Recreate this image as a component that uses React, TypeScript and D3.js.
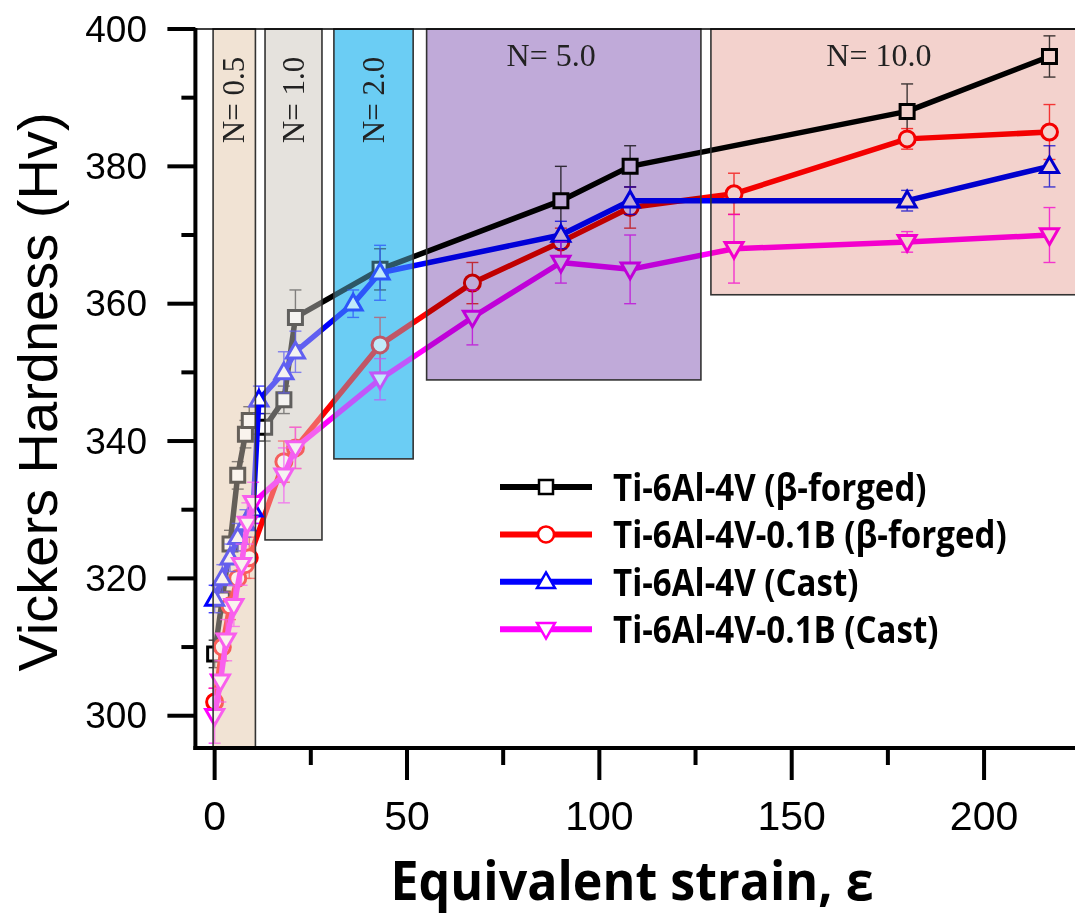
import React from 'react';
import * as d3 from 'd3';

// ---------- data ----------
const seriesNames = [
  'Ti-6Al-4V (β-forged)',
  'Ti-6Al-4V-0.1B (β-forged)',
  'Ti-6Al-4V (Cast)',
  'Ti-6Al-4V-0.1B (Cast)',
];

const forgedX = [0, 2, 4, 6, 8, 9, 13, 18, 21, 43, 90, 108, 180, 217];
const forgedY = [309, 317, 325, 335, 341, 343, 342, 346, 358, 365, 375, 380, 388, 396];
const forgedErr = [2, 2, 2, 2, 2, 2, 2, 2, 4, 3, 5, 3, 4, 3];

const forgedBX = [0, 2, 4, 6, 8, 9, 18, 21, 43, 67, 90, 108, 135, 180, 217];
const forgedBY = [302, 310, 316, 320, 322, 323, 337, 339, 354, 363, 369, 374, 376, 384, 385];
const forgedBErr = [2, 2, 2, 3, 2, 3, 3, 3, 4, 3, 2, 3, 3, 1.5, 4];

const castX = [0, 2, 4, 6, 8, 10, 11.5, 18, 21, 36, 43, 90, 108, 180, 217];
const castY = [317, 320, 323, 326, 328, 330, 346, 350, 353, 360, 364.5, 370, 375, 375, 380];
const castErr = [2, 2, 2, 2, 2, 2, 2, 3, 3, 2, 4, 2, 2, 1.5, 3];

const castBX = [0, 1.5, 3, 5, 7, 8.5, 10, 18, 21, 43, 67, 90, 108, 135, 180, 217];
const castBY = [300, 305, 311, 316, 322, 328, 331, 335, 339, 349, 358, 366, 365, 368, 369, 370];
const castBErr = [4, 3, 3, 3, 3, 3, 3, 4, 3, 3, 4, 3, 5, 5, 1.5, 4];

const regionLabels = ['N= 0.5', 'N= 1.0', 'N= 2.0', 'N= 5.0', 'N= 10.0'];
const regionX0 = [-0.4, 13.1, 31.0, 55.1, 129.0];
const regionX1 = [10.6, 27.9, 51.6, 126.4, 235];
const regionYBottom = [295.3, 325.6, 337.4, 348.9, 361.3];

const xMajorTicks = [0, 50, 100, 150, 200];
const xMinorTicks = [25, 75, 125, 175];
const yMajorTicks = [300, 320, 340, 360, 380, 400];
const yMinorTicks = [310, 330, 350, 370, 390];

// ---------- styles ----------
const W = 1075;
const H = 915;
const colors = ['#000000', '#ff0000', '#0000ff', '#ff00ff'];
const markers = ['square', 'circle', 'up', 'down'];
const regionFill = ['#f1e3d5', '#e5e2dd', '#6ccdf4', '#c0aad9', '#f3d2cd'];
const regionTextOffset = [null, null, null, 124.5, 168];
const serif = '"Liberation Serif", "Times New Roman", serif';
const sans = '"Liberation Sans", Arial, sans-serif';
const bold = '"Open Sans", "Noto Sans", sans-serif';

const xs = d3.scaleLinear().domain([-5, 224]).range([195.4, 1076.4]);
const ys = d3.scaleLinear().domain([295.3, 400]).range([748, 29]);

function markerPath(kind: string, s: number): string {
  const h = s / 2;
  if (kind === 'square') return `M${-h},${-h}H${h}V${h}H${-h}Z`;
  if (kind === 'circle') return `M${h},0A${h},${h} 0 1,1 ${-h},0A${h},${h} 0 1,1 ${h},0Z`;
  const th = s * 0.87;
  if (kind === 'up') return `M0,${-th * 0.6}L${h},${th * 0.4}L${-h},${th * 0.4}Z`;
  return `M0,${th * 0.6}L${h},${-th * 0.4}L${-h},${-th * 0.4}Z`;
}

const allSeries = [
  { x: forgedX, y: forgedY, e: forgedErr },
  { x: forgedBX, y: forgedBY, e: forgedBErr },
  { x: castX, y: castY, e: castErr },
  { x: castBX, y: castBY, e: castBErr },
];

const line = d3
  .line<[number, number]>()
  .x((d) => xs(d[0]))
  .y((d) => ys(d[1]));

export default function App() {
  const sizes = [14, 16, 18, 18];
  return (
    <svg
      width={W}
      height={H}
      style={{ position: 'absolute', left: 0, top: 0, background: '#fff' }}
    >
      <rect x={0} y={0} width={W} height={H} fill="#fff" />
      {/* solid under-fills for first three regions */}
      {regionLabels.slice(0, 3).map((_, i) => (
        <rect
          key={'u' + i}
          x={xs(regionX0[i])}
          y={ys(400)}
          width={xs(regionX1[i]) - xs(regionX0[i])}
          height={ys(regionYBottom[i]) - ys(400)}
          fill={regionFill[i]}
        />
      ))}

      {/* data */}
      {allSeries.map((s, si) => {
        const pts: [number, number][] = s.x.map((v, i) => [v, s.y[i]]);
        return (
          <g key={'s' + si}>
            {pts.map((p, i) => {
              const cx = xs(p[0]);
              const t = ys(p[1] + s.e[i]);
              const b = ys(p[1] - s.e[i]);
              return (
                <g key={i} stroke={colors[si]} strokeWidth={1.4} opacity={0.75}>
                  <line x1={cx} x2={cx} y1={t} y2={b} />
                  <line x1={cx - 6} x2={cx + 6} y1={t} y2={t} />
                  <line x1={cx - 6} x2={cx + 6} y1={b} y2={b} />
                </g>
              );
            })}
            <path
              d={line(pts) || ''}
              fill="none"
              stroke={colors[si]}
              strokeWidth={5.5}
              strokeLinejoin="round"
            />
            {pts.map((p, i) => (
              <path
                key={'m' + i}
                d={markerPath(markers[si], sizes[si])}
                transform={`translate(${xs(p[0])},${ys(p[1])})`}
                fill="#fff"
                stroke={colors[si]}
                strokeWidth={3}
              />
            ))}
          </g>
        );
      })}

      {/* translucent overlays for first three regions */}
      {regionLabels.slice(0, 3).map((_, i) => (
        <rect
          key={'o' + i}
          x={xs(regionX0[i])}
          y={ys(400)}
          width={xs(regionX1[i]) - xs(regionX0[i])}
          height={ys(regionYBottom[i]) - ys(400)}
          fill={regionFill[i]}
          opacity={0.42}
        />
      ))}
      {/* multiply overlays for the last two regions */}
      {regionLabels.slice(3).map((_, j) => {
        const i = j + 3;
        return (
          <rect
            key={'m' + i}
            x={xs(regionX0[i])}
            y={ys(400)}
            width={xs(regionX1[i]) - xs(regionX0[i])}
            height={ys(regionYBottom[i]) - ys(400)}
            fill={regionFill[i]}
            style={{ mixBlendMode: 'multiply' }}
          />
        );
      })}
      {/* region borders */}
      {regionLabels.map((_, i) => (
        <rect
          key={'b' + i}
          x={xs(regionX0[i])}
          y={ys(400)}
          width={xs(regionX1[i]) - xs(regionX0[i])}
          height={ys(regionYBottom[i]) - ys(400)}
          fill="none"
          stroke="#333"
          strokeWidth={1.6}
        />
      ))}
      {/* region labels */}
      {regionLabels.map((lab, i) => {
        const x0 = xs(regionX0[i]);
        const x1 = xs(regionX1[i]);
        if (i < 3) {
          const cx = (x0 + x1) / 2 + 10;
          return (
            <text
              key={'l' + i}
              transform={`translate(${cx},100) rotate(-90)`}
              textAnchor="middle"
              fontFamily={serif}
              fontSize={31}
              fill="#222"
            >
              {lab}
            </text>
          );
        }
        return (
          <text
            key={'l' + i}
            x={x0 + (regionTextOffset[i] as number)}
            y={66}
            textAnchor="middle"
            fontFamily={serif}
            fontSize={32}
            fill="#222"
          >
            {lab}
          </text>
        );
      })}

      {/* frame & axes */}
      <line x1={xs(-5)} x2={W} y1={ys(400)} y2={ys(400)} stroke="#000" strokeWidth={1.6} />
      <line x1={xs(-5)} x2={xs(-5)} y1={ys(400) - 1} y2={ys(295.3) + 2} stroke="#000" strokeWidth={4} />
      <line x1={xs(-5) - 2} x2={W} y1={ys(295.3)} y2={ys(295.3)} stroke="#000" strokeWidth={4} />

      {yMajorTicks.map((v) => (
        <g key={'ym' + v}>
          <line x1={xs(-5) - 28} x2={xs(-5)} y1={ys(v)} y2={ys(v)} stroke="#000" strokeWidth={4} />
          <text x={147} y={ys(v) + 12.5} textAnchor="end" fontFamily={sans} fontSize={37} fill="#000">
            {v}
          </text>
        </g>
      ))}
      {yMinorTicks.map((v) => (
        <line key={'yn' + v} x1={xs(-5) - 14} x2={xs(-5)} y1={ys(v)} y2={ys(v)} stroke="#000" strokeWidth={4} />
      ))}
      {xMajorTicks.map((v) => (
        <g key={'xm' + v}>
          <line x1={xs(v)} x2={xs(v)} y1={ys(295.3)} y2={ys(295.3) + 32} stroke="#000" strokeWidth={4} />
          <text x={xs(v)} y={830} textAnchor="middle" fontFamily={sans} fontSize={41} fill="#000">
            {v}
          </text>
        </g>
      ))}
      {xMinorTicks.map((v) => (
        <line key={'xn' + v} x1={xs(v)} x2={xs(v)} y1={ys(295.3)} y2={ys(295.3) + 17} stroke="#000" strokeWidth={4} />
      ))}

      <text
        transform="translate(57,392) rotate(-90)"
        textAnchor="middle"
        fontFamily={sans}
        fontSize={56}
        fill="#000"
      >
        Vickers Hardness (Hv)
      </text>
      <text
        x={632}
        y={900}
        textAnchor="middle"
        fontFamily={bold}
        fontWeight={700}
        fontSize={54}
        textLength={483}
        lengthAdjust="spacingAndGlyphs"
        fill="#000"
      >
        Equivalent strain, ε
      </text>

      {/* legend */}
      {seriesNames.map((name, i) => {
        const ly = 487 + i * 47.4;
        return (
          <g key={'lg' + i}>
            <line x1={500} x2={592} y1={ly} y2={ly} stroke={colors[i]} strokeWidth={6} />
            <path
              d={markerPath(markers[i], sizes[i])}
              transform={`translate(546,${ly})`}
              fill="#fff"
              stroke={colors[i]}
              strokeWidth={2.5}
            />
            <g transform={`translate(613,${ly + 14}) scale(0.87,1)`}>
              <text x={0} y={0} fontFamily={bold} fontWeight={700} fontSize={38} fill="#000">
                {name}
              </text>
            </g>
          </g>
        );
      })}
    </svg>
  );
}
